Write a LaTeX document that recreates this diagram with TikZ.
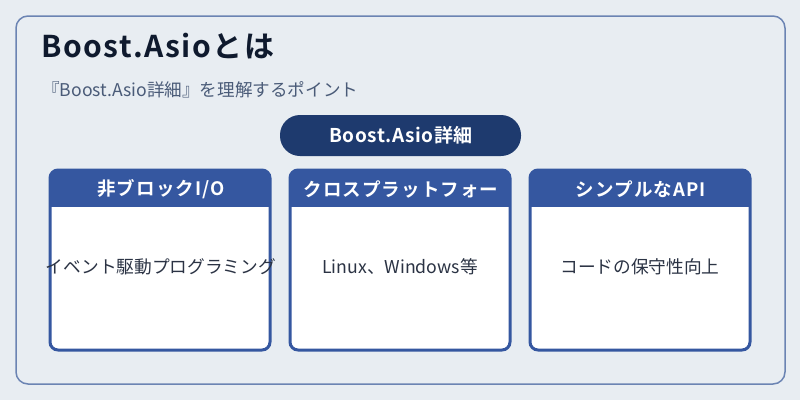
\documentclass[tikz,border=0pt]{standalone}
\usepackage{fontspec}
\setmainfont{Noto Sans CJK JP}
\newfontfamily\jpbold{Noto Sans CJK JP Bold}
\newfontfamily\jpboldtitle[LetterSpace=5]{Noto Sans CJK JP Bold}
\newfontfamily\jpboldhead[LetterSpace=6]{Noto Sans CJK JP Bold}
\newfontfamily\jpboldpill[LetterSpace=3]{Noto Sans CJK JP Bold}
\definecolor{bgc}{HTML}{E8EDF2}
\definecolor{outerc}{HTML}{6B84B3}
\definecolor{titlec}{HTML}{0F1A2E}
\definecolor{subc}{HTML}{4A5B78}
\definecolor{pillc}{HTML}{1E3A6E}
\definecolor{headc}{HTML}{3557A0}
\definecolor{bodyc}{HTML}{2B3344}
\tikzset{
  headtext/.style={text=white, font=\jpboldhead\fontsize{18.5}{22}\selectfont, inner sep=0pt, anchor=center},
  bodytext/.style={text=bodyc, font=\fontsize{17.7}{21}\selectfont, inner sep=0pt, anchor=center},
}
\begin{document}
\begin{tikzpicture}[x=1pt,y=-1pt]
\useasboundingbox (0,0) rectangle (800,400);
\fill[bgc] (0,0) rectangle (800,400);
\draw[outerc, line width=1.5pt, rounded corners=12pt] (16,16) rectangle (785,384);
\node[anchor=base west, inner sep=0pt, text=titlec, font=\jpboldtitle\fontsize{30}{34}\selectfont] (title) at (41,57.5) {Boost.Asioとは};
\node[anchor=base west, inner sep=0pt, text=subc, font=\fontsize{17.6}{20}\selectfont] (sub) at (42,96) {『Boost.Asio詳細』を理解するポイント};
\fill[pillc, rounded corners=20pt] (280,115) rectangle (521,156);
\node[text=white, font=\jpboldpill\fontsize{19}{22}\selectfont, inner sep=0pt] (pill) at (401,135.5) {Boost.Asio詳細};
\foreach \x in {50,290,530}{
  \fill[white, rounded corners=8pt] (\x,170) rectangle ({\x+220},350);
  \begin{scope}
    \clip[rounded corners=8pt] (\x,170) rectangle ({\x+220},350);
    \fill[headc] (\x,170) rectangle ({\x+220},207);
  \end{scope}
  \draw[headc, line width=3pt, rounded corners=8pt] (\x,170) rectangle ({\x+220},350);
}
\node[headtext] (h1) at (161,189) {非ブロックI/O};
\node[headtext] (h2) at (401,189) {クロスプラットフォー};
\node[headtext] (h3) at (641,189) {シンプルなAPI};
\node[bodytext] (b1) at (161,267) {イベント駆動プログラミング};
\node[bodytext] (b2) at (400,267) {Linux、Windows等};
\node[bodytext] (b3) at (640,267) {コードの保守性向上};
\end{tikzpicture}
\end{document}
